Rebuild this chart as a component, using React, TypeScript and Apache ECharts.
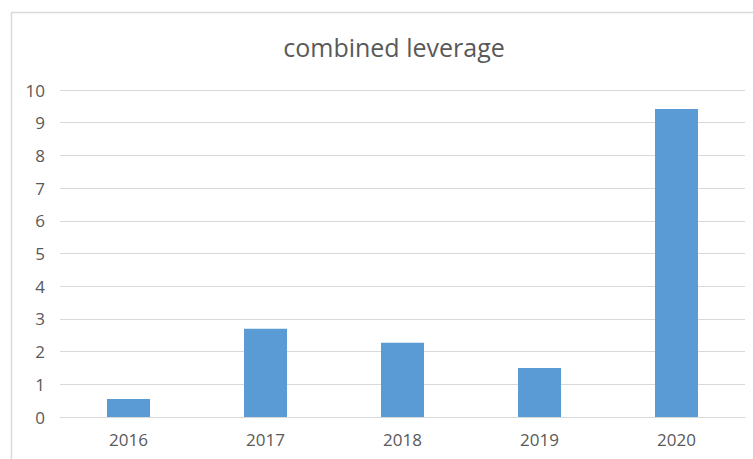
import React, { useEffect, useRef } from "react";
import * as echarts from "echarts";

const categories = ["2016", "2017", "2018", "2019", "2020"];
const values = [0.55, 2.7, 2.27, 1.5, 9.42];
const titleText = "combined leverage";

export default function App() {
  const ref = useRef<HTMLDivElement>(null);
  useEffect(() => {
    document.body.style.margin = "0";
    const chart = echarts.init(ref.current!, undefined, { renderer: "svg" });
    chart.setOption({
      animation: false,
      backgroundColor: "#ffffff",
      title: {
        text: titleText,
        left: 389,
        textAlign: "center",
        top: 29,
        textStyle: { fontFamily: "Open Sans", fontSize: 25, fontWeight: "normal", color: "#595959" },
      },
      graphic: [
        {
          type: "rect",
          shape: { x: 11.5, y: 12.5, width: 800, height: 500 },
          style: { fill: "none", stroke: "#d9d9d9", lineWidth: 1.5 },
          silent: true,
        },
      ],
      grid: { left: 60, right: 8, top: 90, bottom: 42 },
      xAxis: {
        type: "category",
        data: categories,
        axisLine: { lineStyle: { color: "#d9d9d9", width: 1 } },
        axisTick: { show: false },
        axisLabel: { color: "#595959", fontFamily: "Open Sans", fontSize: 17, margin: 14 },
      },
      yAxis: {
        type: "value",
        min: 0,
        max: 10,
        interval: 1,
        axisLine: { show: false },
        axisTick: { show: false },
        splitLine: { lineStyle: { color: "#d9d9d9", width: 1 } },
        axisLabel: { color: "#595959", fontFamily: "Open Sans", fontSize: 17, margin: 15 },
      },
      series: [
        {
          type: "bar",
          data: values,
          barWidth: 43,
          itemStyle: { color: "#5B9BD5" },
        },
      ],
    });
    return () => chart.dispose();
  }, []);
  return <div ref={ref} style={{ width: 753, height: 459 }} />;
}
